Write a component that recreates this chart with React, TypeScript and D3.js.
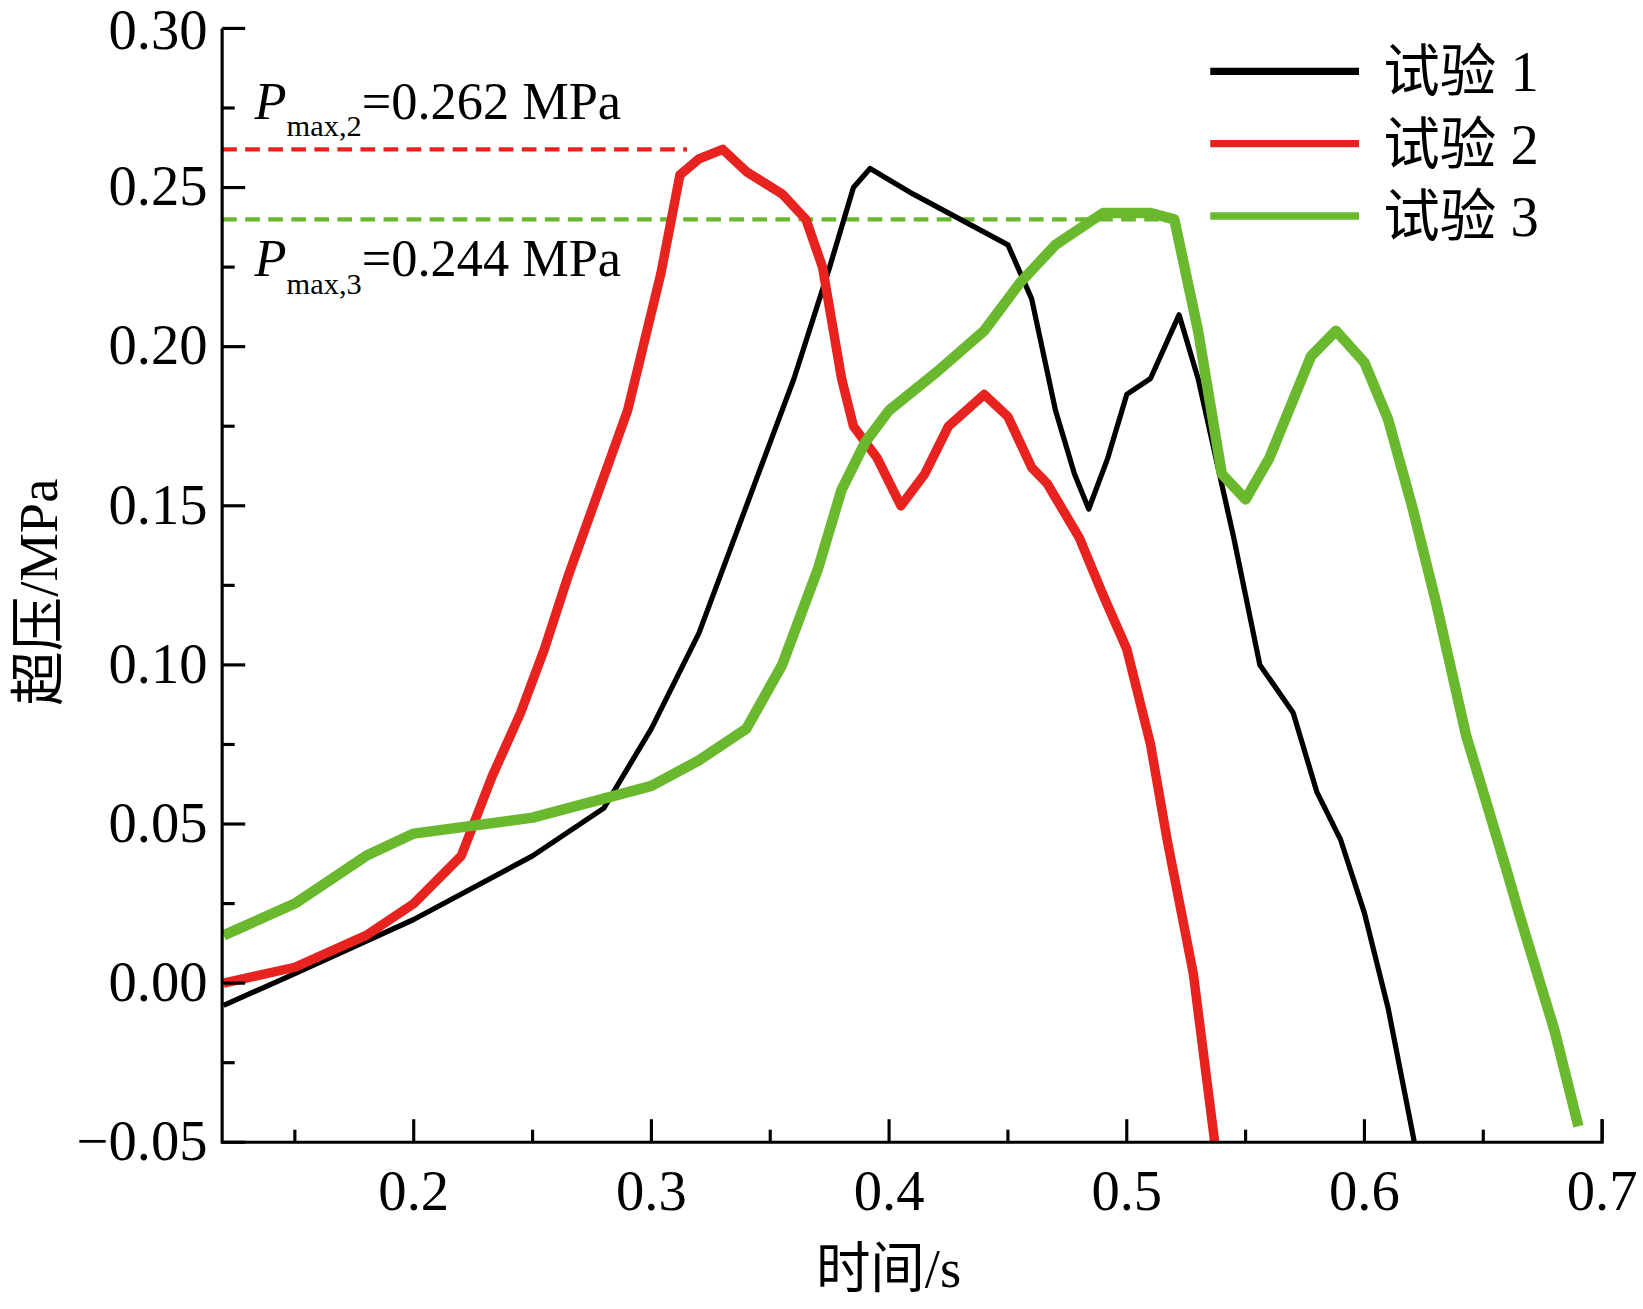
import React from 'react';
import * as d3 from 'd3';

type Pt = [number, number];

const test1: Pt[] = [
  [0.12, -0.007], [0.15, 0.003], [0.2, 0.02], [0.25, 0.04], [0.28, 0.055], [0.3, 0.08],
  [0.32, 0.11], [0.34, 0.15], [0.36, 0.19], [0.375, 0.225], [0.385, 0.25], [0.392, 0.256],
  [0.41, 0.248], [0.43, 0.24], [0.45, 0.232], [0.46, 0.215], [0.47, 0.18], [0.478, 0.16],
  [0.484, 0.149], [0.492, 0.165], [0.5, 0.185], [0.51, 0.19], [0.522, 0.21], [0.53, 0.19],
  [0.545, 0.14], [0.556, 0.1], [0.57, 0.085], [0.58, 0.06], [0.59, 0.045], [0.6, 0.022],
  [0.61, -0.008], [0.621, -0.05],
];
const test2: Pt[] = [
  [0.12, 0.0], [0.15, 0.005], [0.18, 0.015], [0.2, 0.025], [0.22, 0.04], [0.233, 0.065],
  [0.245, 0.085], [0.255, 0.105], [0.265, 0.128], [0.2775, 0.154], [0.29, 0.18], [0.304, 0.223],
  [0.312, 0.254], [0.32, 0.259], [0.33, 0.262], [0.34, 0.255], [0.355, 0.248], [0.365, 0.24],
  [0.372, 0.225], [0.38, 0.19], [0.385, 0.175], [0.395, 0.165], [0.405, 0.15], [0.415, 0.16],
  [0.425, 0.175], [0.44, 0.185], [0.45, 0.178], [0.46, 0.162], [0.4665, 0.157], [0.48, 0.14],
  [0.49, 0.122], [0.5, 0.105], [0.51, 0.075], [0.517, 0.045], [0.528, 0.003], [0.537, -0.05],
];
const test3: Pt[] = [
  [0.12, 0.015], [0.15, 0.025], [0.18, 0.04], [0.2, 0.047], [0.25, 0.052], [0.28, 0.058],
  [0.3, 0.062], [0.32, 0.07], [0.34, 0.08], [0.355, 0.1], [0.37, 0.13], [0.38, 0.155],
  [0.39, 0.17], [0.4, 0.18], [0.42, 0.192], [0.44, 0.205], [0.455, 0.22], [0.47, 0.232],
  [0.49, 0.242], [0.51, 0.242], [0.52, 0.24], [0.53, 0.205], [0.54, 0.16], [0.55, 0.152],
  [0.56, 0.165], [0.5775, 0.197], [0.588, 0.205], [0.6, 0.195], [0.61, 0.177], [0.62, 0.15],
  [0.63, 0.12], [0.6427, 0.078], [0.65, 0.06], [0.66, 0.035], [0.665, 0.022], [0.68, -0.015],
  [0.69, -0.045],
];

const series = [
  { name: '试验 1', data: test1, color: '#000000', width: 5 },
  { name: '试验 2', data: test2, color: '#e8231f', width: 9 },
  { name: '试验 3', data: test3, color: '#6ab82e', width: 10 },
];

const xTicks = [0.2, 0.3, 0.4, 0.5, 0.6, 0.7];
const xMinor = [0.15, 0.25, 0.35, 0.45, 0.55, 0.65];
const yTicks = [-0.05, 0, 0.05, 0.1, 0.15, 0.2, 0.25, 0.3];
const yMinor = [-0.025, 0.025, 0.075, 0.125, 0.175, 0.225, 0.275];
const peaks = [
  { label: 'max,2', value: 0.262, xEnd: 0.315, color: '#e8231f', textY: 113 },
  { label: 'max,3', value: 0.24, xEnd: 0.52, color: '#6ab82e', textY: 263 },
];
const peakText = ['=0.262 MPa', '=0.244 MPa'];

const serif = '"Liberation Serif", "Times New Roman", serif';
const cjk = '"Noto Sans CJK SC", sans-serif';

export default function App() {
  const x = d3.scaleLinear().domain([0.1194, 0.7]).range([212, 1529]);
  const y = d3.scaleLinear().domain([-0.05, 0.3]).range([1090, 27]);
  const line = d3.line<Pt>().x((d) => x(d[0])).y((d) => y(d[1]));

  return (
    <svg width={1643} height={1309} viewBox="0 0 1568 1249"
      style={{ position: 'absolute', left: 0, top: 0, background: '#fff' }}>
      {peaks.map((p, i) => (
        <g key={p.label}>
          <line x1={x.range()[0]} x2={x(p.xEnd)} y1={y(p.value)} y2={y(p.value)}
            stroke={p.color} strokeWidth={4} strokeDasharray="14,8" />
          <text x={243} y={p.textY} fontFamily={serif} fontSize={50}>
            <tspan fontStyle="italic">P</tspan>
            <tspan fontSize={29} dy={17}>{p.label}</tspan>
            <tspan dy={-17}>{peakText[i]}</tspan>
          </text>
        </g>
      ))}
      {series.map((s) => (
        <path key={s.name} d={line(s.data) ?? ''} fill="none" stroke={s.color}
          strokeWidth={s.width} strokeLinejoin="round" />
      ))}
      <path d={`M212,${y(0.3)}V1090H1529V1068`} fill="none" stroke="#000" strokeWidth={3} />
      {yTicks.map((t) => (
        <g key={t}>
          <line x1={212} x2={234} y1={y(t)} y2={y(t)} stroke="#000" strokeWidth={3} />
          <text x={198} y={y(t) + (t === 0.3 ? 20 : 17)} textAnchor="end" fontFamily={serif} fontSize={54}>
            {t < 0 ? '−' + Math.abs(t).toFixed(2) : t.toFixed(2)}
          </text>
        </g>
      ))}
      {yMinor.map((t) => (
        <line key={t} x1={212} x2={224} y1={y(t)} y2={y(t)} stroke="#000" strokeWidth={3} />
      ))}
      {xTicks.map((t) => (
        <g key={t}>
          <line x1={x(t)} x2={x(t)} y1={1090} y2={1068} stroke="#000" strokeWidth={3} />
          <text x={x(t)} y={1155} textAnchor="middle" fontFamily={serif} fontSize={54}>
            {t.toFixed(1)}
          </text>
        </g>
      ))}
      {xMinor.map((t) => (
        <line key={t} x1={x(t)} x2={x(t)} y1={1090} y2={1078} stroke="#000" strokeWidth={3} />
      ))}
      <text x={848} y={1228} textAnchor="middle" fontFamily={cjk} fontSize={52}>
        时间<tspan fontFamily={serif}>/s</tspan>
      </text>
      <text transform="translate(54,565) rotate(-90)" textAnchor="middle" fontFamily={cjk} fontSize={52}>
        超压<tspan fontFamily={serif}>/MPa</tspan>
      </text>
      {series.map((s, i) => (
        <g key={s.name} transform={`translate(0,${68 + i * 69})`}>
          <line x1={1155} x2={1297} y1={0} y2={0} stroke={s.color} strokeWidth={7} />
          <text x={1320} y={19} fontFamily={cjk} fontSize={54}>
            {s.name.split(' ')[0]}<tspan fontFamily={serif}> {s.name.split(' ')[1]}</tspan>
          </text>
        </g>
      ))}
    </svg>
  );
}
